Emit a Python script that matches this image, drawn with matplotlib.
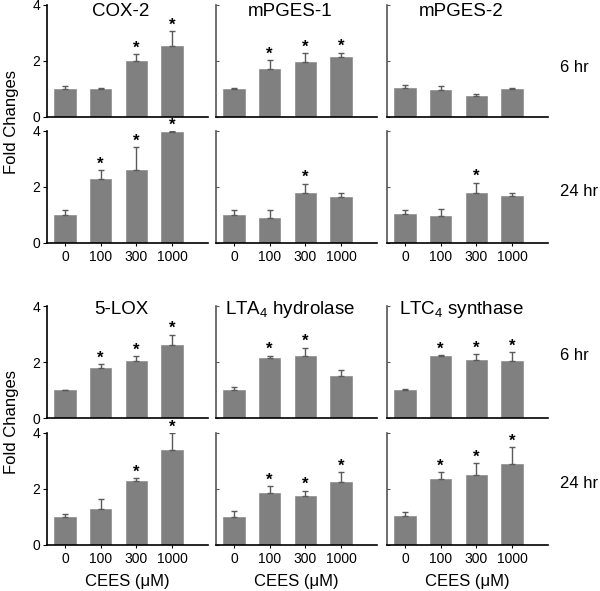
import numpy as np
import matplotlib
matplotlib.use("Agg")
import matplotlib.pyplot as plt

plt.rcParams['font.family'] = ['Liberation Sans', 'DejaVu Sans']
plt.rcParams['mathtext.fontset'] = 'custom'
plt.rcParams['mathtext.rm'] = 'Liberation Sans'
plt.rcParams['mathtext.it'] = 'Liberation Sans'

doses = ["0", "100", "300", "1000"]

# top block: prostaglandin pathway
titles_top = ["COX-2", "mPGES-1", "mPGES-2"]
cox2_6 = [1.0, 1.0, 2.01, 2.55]
cox2_6_err = [0.12, 0.02, 0.24, 0.52]
cox2_24 = [0.99, 2.28, 2.6, 3.95]
cox2_24_err = [0.19, 0.31, 0.83, 0.05]
mpges1_6 = [1.0, 1.7, 1.98, 2.13]
mpges1_6_err = [0.02, 0.34, 0.3, 0.17]
mpges1_24 = [1.01, 0.91, 1.79, 1.63]
mpges1_24_err = [0.18, 0.28, 0.33, 0.14]
mpges2_6 = [1.05, 0.96, 0.75, 0.99]
mpges2_6_err = [0.1, 0.14, 0.06, 0.03]
mpges2_24 = [1.03, 0.95, 1.8, 1.67]
mpges2_24_err = [0.16, 0.28, 0.36, 0.12]

# bottom block: leukotriene pathway
titles_bot = ["5-LOX", "LTA$_4$ hydrolase", "LTC$_4$ synthase"]
lox_6 = [1.0, 1.79, 2.02, 2.59]
lox_6_err = [0.01, 0.13, 0.18, 0.39]
lox_24 = [1.0, 1.3, 2.3, 3.38]
lox_24_err = [0.12, 0.35, 0.08, 0.62]
lta4_6 = [1.0, 2.14, 2.2, 1.49]
lta4_6_err = [0.12, 0.08, 0.31, 0.24]
lta4_24 = [1.0, 1.85, 1.74, 2.26]
lta4_24_err = [0.2, 0.25, 0.2, 0.33]
ltc4_6 = [1.01, 2.2, 2.06, 2.05]
ltc4_6_err = [0.01, 0.04, 0.21, 0.29]
ltc4_24 = [1.02, 2.35, 2.5, 2.89]
ltc4_24_err = [0.16, 0.25, 0.42, 0.61]

# significance markers (1 = asterisk)
sig = {
    "cox2_6": [0, 0, 1, 1], "cox2_24": [0, 1, 1, 1],
    "mpges1_6": [0, 1, 1, 1], "mpges1_24": [0, 0, 1, 0],
    "mpges2_6": [0, 0, 0, 0], "mpges2_24": [0, 0, 1, 0],
    "lox_6": [0, 1, 1, 1], "lox_24": [0, 0, 1, 1],
    "lta4_6": [0, 1, 1, 0], "lta4_24": [0, 1, 1, 1],
    "ltc4_6": [0, 1, 1, 1], "ltc4_24": [0, 1, 1, 1],
}

rows = [
    [(cox2_6, cox2_6_err, sig["cox2_6"]), (mpges1_6, mpges1_6_err, sig["mpges1_6"]),
     (mpges2_6, mpges2_6_err, sig["mpges2_6"])],
    [(cox2_24, cox2_24_err, sig["cox2_24"]), (mpges1_24, mpges1_24_err, sig["mpges1_24"]),
     (mpges2_24, mpges2_24_err, sig["mpges2_24"])],
    [(lox_6, lox_6_err, sig["lox_6"]), (lta4_6, lta4_6_err, sig["lta4_6"]),
     (ltc4_6, ltc4_6_err, sig["ltc4_6"])],
    [(lox_24, lox_24_err, sig["lox_24"]), (lta4_24, lta4_24_err, sig["lta4_24"]),
     (ltc4_24, ltc4_24_err, sig["ltc4_24"])],
]

W, H = 600, 591
fig = plt.figure(figsize=(W / 100, H / 100), dpi=100)

col_left = [47, 216, 387]
col_w = 161
row_zero = [117, 243, 418, 545]
row_h = 112

x = np.arange(len(doses))
for r in range(4):
    for c in range(3):
        vals, errs, stars = rows[r][c]
        ax = fig.add_axes([col_left[c] / W, 1 - row_zero[r] / H, col_w / W, row_h / H])
        ax.bar(x, vals, width=0.6, color='#808080', edgecolor='#8c8c8c', linewidth=0.5)
        ax.errorbar(x, vals, yerr=[np.zeros(len(errs)), errs], fmt='none',
                    ecolor='#5a5a5a', elinewidth=1, capsize=2, capthick=1)
        for i in range(len(x)):
            if stars[i]:
                ax.annotate('*', (x[i], vals[i] + errs[i]), xytext=(0, -1),
                            textcoords='offset points', ha='center', va='bottom',
                            fontsize=12, fontweight='bold', annotation_clip=False)
        ax.set_xlim(-0.5, 4.0)
        ax.set_ylim(0, 4)
        ax.set_yticks([0, 2, 4])
        ax.set_xticks(x)
        for s in ['top', 'right']:
            ax.spines[s].set_visible(False)
        ax.spines['bottom'].set_linewidth(1.2)
        ax.spines['left'].set_linewidth(1.2)
        if c == 0:
            ax.tick_params(axis='y', direction='out', length=3, labelsize=10, pad=2)
        else:
            ax.spines['left'].set_color('#555555')
            ax.tick_params(axis='y', direction='in', length=2, labelleft=False,
                           color='#555555')
        if r in (1, 3):
            ax.set_xticklabels(doses)
            ax.tick_params(axis='x', length=2, labelsize=10, pad=3)
        else:
            ax.tick_params(axis='x', length=0, labelbottom=False)
        if r == 0:
            ax.text(0.46, 0.94, titles_top[c], transform=ax.transAxes,
                    ha='center', va='center', fontsize=13.5)
        if r == 2:
            ax.text(0.46, 0.97, titles_bot[c], transform=ax.transAxes,
                    ha='center', va='center', fontsize=13.5)
        if r == 3:
            ax.set_xlabel('CEES (\u03bcM)', fontsize=12, labelpad=6)

fig.text(12 / W, 1 - 122 / H, 'Fold Changes', rotation=90, ha='center', va='center',
         fontsize=12)
fig.text(12 / W, 1 - 422 / H, 'Fold Changes', rotation=90, ha='center', va='center',
         fontsize=12)
for yy, lab in [(68, '6 hr'), (191, '24 hr'), (355, '6 hr'), (483, '24 hr')]:
    fig.text(560 / W, 1 - yy / H, lab, ha='left', va='center', fontsize=12)

fig.savefig('out.png', dpi=100)
